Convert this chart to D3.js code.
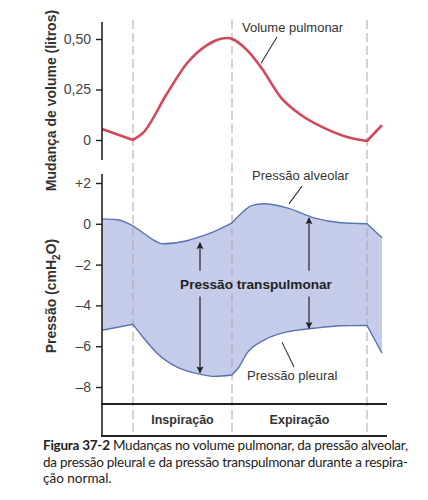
<!DOCTYPE html>
<html><head><meta charset="utf-8">
<script src="https://cdn.jsdelivr.net/npm/d3@7/dist/d3.min.js"></script>
<style>
html,body{margin:0;padding:0;background:#fff;}
svg{display:block;}
</style></head>
<body>
<svg id="c" width="428" height="500"></svg>
<script>
// ---- data ----
const phaseBounds = [0.62, 2.6, 5.3];           // times of the dashed lines
const phaseLabels = ["Inspiração", "Expiração"];
const volTicks = [0, 0.25, 0.5];
const volTickLabels = ["0", "0,25", "0,50"];
const presTicks = [2, 0, -2, -4, -6, -8];
const presTickLabels = ["+2", "0", "–2", "–4", "–6", "–8"];

const volumeT = [0, 0.62, 0.82, 1.3, 1.7, 2.1, 2.36, 2.52, 2.9, 3.18, 3.58, 3.98, 4.44, 4.9, 5.3, 5.6];
const volumeV = [0.054, 0.0, 0.035, 0.23, 0.38, 0.47, 0.50, 0.505, 0.445, 0.36, 0.21, 0.124, 0.06, 0.015, -0.005, 0.074];

const alveolarT = [0, 0.3, 0.62, 0.82, 1.0, 1.22, 1.7, 2.0, 2.24, 2.6, 2.78, 2.98, 3.24, 3.7, 4.24, 4.78, 5.3, 5.6];
const alveolarP = [0.24, 0.2, -0.1, -0.44, -0.75, -0.98, -0.83, -0.6, -0.38, 0.05, 0.49, 0.88, 0.98, 0.78, 0.29, 0.05, 0.0, -0.68];

const pleuralT = [0, 0.62, 0.82, 1.1, 1.5, 1.96, 2.24, 2.6, 2.74, 2.9, 3.24, 3.7, 4.24, 4.78, 5.3, 5.6];
const pleuralP = [-5.22, -4.93, -5.56, -6.34, -7.02, -7.37, -7.48, -7.41, -7.02, -6.34, -5.7, -5.3, -5.12, -5.0, -4.98, -6.34];

// transpulmonary arrows: time, top, bottom (cmH2O)
const arrowT = [1.96, 4.14];
const arrowTop = [-0.93, 0.29];
const arrowBottom = [-7.3, -5.12];

const captionBold = "Figura 37-2";
const captionLines = [
  " Mudanças no volume pulmonar, da pressão alveolar,",
  "da pressão pleural e da pressão transpulmonar durante a respira-",
  "ção normal."
];

// ---- scales ----
const svg = d3.select("#c");
const x = d3.scaleLinear().domain([0, 5.6]).range([102, 382]);
const yV = d3.scaleLinear().domain([0, 0.5]).range([140, 39]);
const yP = d3.scaleLinear().domain([-8, 2]).range([387, 183]);

const axisColor = "#222";
const textColor = "#333";
const volColor = "#d2475c";
const fillColor = "#c4cce9";
const strokeBlue = "#5a72b2";

function split(ts, vs, breaks) {
  const pts = ts.map((t, i) => [t, vs[i]]);
  const segs = [];
  let cur = [];
  pts.forEach(p => {
    cur.push(p);
    if (breaks.some(b => Math.abs(b - p[0]) < 1e-9) && cur.length > 1) {
      segs.push(cur); cur = [p];
    }
  });
  if (cur.length > 1) segs.push(cur);
  return segs;
}
function pathOf(segs, yScale, first) {
  const ln = d3.line().x(d => x(d[0])).y(d => yScale(d[1])).curve(d3.curveMonotoneX);
  return segs.map((s, i) => {
    const str = ln(s);
    return (i === 0 && first) ? str : "L" + str.slice(1);
  }).join("");
}

// defs: arrow marker
const defs = svg.append("defs");
defs.append("marker").attr("id", "ah").attr("viewBox", "0 0 10 10")
  .attr("refX", 9).attr("refY", 5).attr("markerWidth", 7).attr("markerHeight", 8)
  .attr("orient", "auto-start-reverse").attr("markerUnits", "userSpaceOnUse")
  .append("path").attr("d", "M0,0L10,5L0,10L2,5Z").attr("fill", "#222");

// ---- pressure band ----
const upSegs = split(alveolarT, alveolarP, phaseBounds);
const loSegs = split(pleuralT, pleuralP, phaseBounds);
const loRev = loSegs.slice().reverse().map(s => s.slice().reverse());
const areaD = pathOf(upSegs, yP, true) + pathOf(loRev, yP, false) + "Z";
svg.append("path").attr("d", areaD).attr("fill", fillColor).attr("stroke", "none");

// dashed phase lines
svg.selectAll(".ph").data(phaseBounds).join("line")
  .attr("x1", d => x(d)).attr("x2", d => x(d))
  .attr("y1", 20).attr("y2", 437)
  .attr("stroke", "#a8a8a8").attr("stroke-width", 1).attr("stroke-dasharray", "9,4");

svg.append("path").attr("d", pathOf(upSegs, yP, true)).attr("fill", "none")
  .attr("stroke", strokeBlue).attr("stroke-width", 1.4);
svg.append("path").attr("d", pathOf(loSegs, yP, true)).attr("fill", "none")
  .attr("stroke", strokeBlue).attr("stroke-width", 1.4);

// ---- volume curve ----
const vSegs = split(volumeT, volumeV, [phaseBounds[0], phaseBounds[2]]);
svg.append("path").attr("d", pathOf(vSegs, yV, true)).attr("fill", "none")
  .attr("stroke", volColor).attr("stroke-width", 2.6).attr("stroke-linejoin", "round");

// ---- axes ----
const gV = svg.append("g").attr("transform", `translate(${x(0)},0)`)
  .call(d3.axisLeft(yV).tickValues(volTicks).tickFormat((d, i) => volTickLabels[i]).tickSize(6).tickPadding(5));
gV.select(".domain").attr("d", `M0,22V160`);
const gP = svg.append("g").attr("transform", `translate(${x(0)},0)`)
  .call(d3.axisLeft(yP).tickValues(presTicks).tickFormat((d, i) => presTickLabels[i]).tickSize(6).tickPadding(5));
gP.select(".domain").attr("d", `M0,174V437`);
[gV, gP].forEach(g => {
  g.select(".domain").attr("stroke", axisColor).attr("stroke-width", 1.6);
  g.selectAll(".tick line").attr("stroke", axisColor).attr("stroke-width", 1.4);
  g.selectAll(".tick text").attr("fill", "#444").attr("font-family", "Liberation Sans, Arial, sans-serif").attr("font-size", 14);
});

// y titles
svg.append("text").attr("transform", `translate(56,${(8 + 193) / 2}) rotate(-90)`)
  .attr("text-anchor", "middle").attr("font-family", "Liberation Sans, Arial, sans-serif")
  .attr("font-weight", "bold").attr("font-size", 14).attr("fill", textColor)
  .text("Mudança de volume (litros)");
const pt = svg.append("text").attr("transform", `translate(56,296) rotate(-90)`)
  .attr("text-anchor", "middle").attr("font-family", "Liberation Sans, Arial, sans-serif")
  .attr("font-weight", "bold").attr("font-size", 14).attr("fill", textColor);
pt.append("tspan").text("Pressão (cmH");
pt.append("tspan").attr("font-size", 10).attr("dy", 4).text("2");
pt.append("tspan").attr("dy", -4).text("O)");

// bottom phase box
const xEnd = x(5.7);
svg.append("line").attr("x1", x(0) - 1).attr("x2", xEnd).attr("y1", 404).attr("y2", 404)
  .attr("stroke", axisColor).attr("stroke-width", 2);
svg.append("line").attr("x1", x(0) - 1).attr("x2", xEnd).attr("y1", 436).attr("y2", 436)
  .attr("stroke", axisColor).attr("stroke-width", 2);
phaseLabels.forEach((l, i) => {
  svg.append("text").attr("x", x((phaseBounds[i] + phaseBounds[i + 1]) / 2)).attr("y", 424)
    .attr("text-anchor", "middle").attr("font-family", "Liberation Sans, Arial, sans-serif")
    .attr("font-weight", "bold").attr("font-size", 12.5).attr("fill", textColor).text(l);
});

// ---- annotations ----
function label(t, v, ys, txt) {
  svg.append("text").attr("x", x(t)).attr("y", ys(v))
    .attr("font-family", "Liberation Sans, Arial, sans-serif").attr("font-size", 13)
    .attr("fill", textColor).text(txt);
}
function leader(t1, v1, t2, v2, ys) {
  svg.append("line").attr("x1", x(t1)).attr("y1", ys(v1)).attr("x2", x(t2)).attr("y2", ys(v2))
    .attr("stroke", "#333").attr("stroke-width", 1.1);
}
label(2.8, 0.535, yV, "Volume pulmonar");
leader(3.5, 0.51, 3.18, 0.38, yV);
label(3.0, 2.15, yP, "Pressão alveolar");
leader(4.0, 1.85, 3.74, 0.98, yP);
label(2.9, -7.66, yP, "Pressão pleural");
leader(3.84, -7.02, 3.6, -5.8, yP);

// transpulmonary arrows (broken around the label)
const gapTop = -2.3, gapBot = -3.56;
arrowT.forEach((t, i) => {
  svg.append("line").attr("x1", x(t)).attr("x2", x(t))
    .attr("y1", yP(gapTop)).attr("y2", yP(arrowTop[i]))
    .attr("stroke", "#222").attr("stroke-width", 1.2).attr("marker-end", "url(#ah)");
  svg.append("line").attr("x1", x(t)).attr("x2", x(t))
    .attr("y1", yP(gapBot)).attr("y2", yP(arrowBottom[i]))
    .attr("stroke", "#222").attr("stroke-width", 1.2).attr("marker-end", "url(#ah)");
});
svg.append("text").attr("x", x(3.08)).attr("y", yP(-3.2)).attr("text-anchor", "middle")
  .attr("font-family", "Liberation Sans, Arial, sans-serif").attr("font-weight", "bold")
  .attr("font-size", 13.6).attr("fill", "#222").text("Pressão transpulmonar");

// ---- caption ----
const capFont = "Lato, Open Sans, sans-serif";
const capY = [450, 467, 483];
captionLines.forEach((l, i) => {
  const t = svg.append("text").attr("x", 43).attr("y", capY[i])
    .attr("font-family", capFont).attr("font-size", 13.5).attr("fill", "#222");
  if (i === 0) {
    t.append("tspan").attr("font-weight", "bold").text(captionBold);
    t.append("tspan").text(l);
  } else {
    t.text(l);
  }
  if (i < 2) t.attr("textLength", 365).attr("lengthAdjust", "spacing");
});
</script>
</body></html>
